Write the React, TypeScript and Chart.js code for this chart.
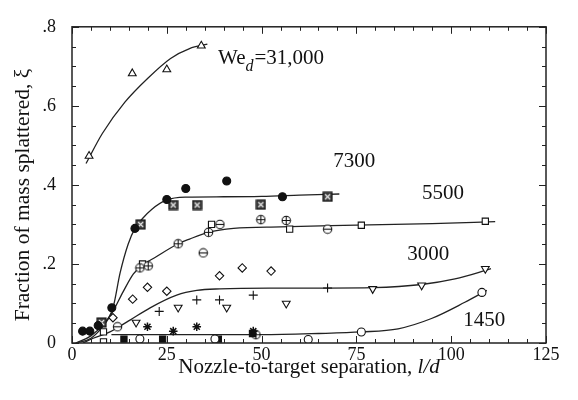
import React, { useEffect, useRef } from "react";
import { Chart, registerables } from "chart.js";

Chart.register(...registerables);

// ---------- axis ticks ----------
const X_TICKS = [0, 25, 50, 75, 100, 125];
const X_TICK_LABELS = ["0", "25", "50", "75", "100", "125"];
const Y_TICKS = [0, 0.2, 0.4, 0.6, 0.8];
const Y_TICK_LABELS = ["0", ".2", ".4", ".6", ".8"];

// ---------- We_d = 31,000 ----------
const WE31000_TRI_X = [4.5, 15.9, 25.0, 34.1];
const WE31000_TRI_Y = [0.473, 0.682, 0.692, 0.752];
const WE31000_FIT_X = [3.7, 8, 14, 20, 26, 31, 35.7];
const WE31000_FIT_Y = [0.454, 0.53, 0.61, 0.67, 0.72, 0.745, 0.756];

// ---------- We_d = 7300 ----------
const WE7300_DOT_X = [2.8, 4.7, 6.9, 10.5, 16.6, 25, 30, 40.8, 55.5];
const WE7300_DOT_Y = [0.03, 0.03, 0.044, 0.089, 0.29, 0.363, 0.391, 0.41, 0.37];
const WE7300_BOXX_X = [7.8, 18.1, 26.7, 33, 49.8, 67.4];
const WE7300_BOXX_Y = [0.052, 0.3, 0.349, 0.349, 0.35, 0.37];
const WE7300_FIT_X = [1, 5, 8, 10.8, 12.7, 14.8, 16.6, 18.6, 21, 25, 30.2, 40, 50, 60, 70.5];
const WE7300_FIT_Y = [0, 0.018, 0.045, 0.089, 0.178, 0.25, 0.29, 0.315, 0.338, 0.362, 0.369, 0.37, 0.371, 0.374, 0.377];

// ---------- We_d = 5500 ----------
const WE5500_CPLUS_X = [17.9, 20.1, 28, 36, 49.8, 56.5];
const WE5500_CPLUS_Y = [0.19, 0.195, 0.251, 0.28, 0.312, 0.31];
const WE5500_CMINUS_X = [12, 34.6, 39, 67.4];
const WE5500_CMINUS_Y = [0.041, 0.228, 0.3, 0.288];
const WE5500_SQ_X = [8.3, 8.3, 18.6, 36.8, 57.4, 76.3, 109];
const WE5500_SQ_Y = [0.003, 0.028, 0.2, 0.3, 0.288, 0.298, 0.308];
const WE5500_FIT_X = [1, 5, 8, 10.8, 13.5, 16.2, 18.6, 22, 28, 31, 36, 42.6, 55, 75, 95, 111.6];
const WE5500_FIT_Y = [0, 0.012, 0.04, 0.08, 0.13, 0.175, 0.197, 0.217, 0.251, 0.263, 0.28, 0.29, 0.294, 0.298, 0.302, 0.307];

// ---------- We_d = 3000 ----------
const WE3000_DIA_X = [10.8, 16, 19.9, 25, 38.9, 44.9, 52.5];
const WE3000_DIA_Y = [0.064, 0.111, 0.141, 0.131, 0.17, 0.19, 0.182];
const WE3000_PLUS_X = [23, 32.9, 38.9, 47.8, 67.4];
const WE3000_PLUS_Y = [0.08, 0.109, 0.109, 0.121, 0.139];
const WE3000_ITRI_X = [16.9, 28, 40.8, 56.5, 79.3, 92.2, 109];
const WE3000_ITRI_Y = [0.052, 0.09, 0.09, 0.1, 0.137, 0.146, 0.188];
const WE3000_FIT_X = [2.9, 5.6, 10, 12.2, 15.3, 20.6, 27.6, 32.9, 39, 52, 67.4, 79.3, 92.2, 101, 110.5];
const WE3000_FIT_Y = [0, 0.012, 0.028, 0.04, 0.058, 0.089, 0.121, 0.133, 0.137, 0.139, 0.139, 0.14, 0.148, 0.162, 0.188];

// ---------- We_d = 1450 ----------
const WE1450_CIRC_X = [17.9, 37.7, 62.3, 76.3, 108.1];
const WE1450_CIRC_Y = [0.01, 0.01, 0.009, 0.028, 0.128];
const WE1450_AST_X = [19.9, 26.7, 32.9, 47.8];
const WE1450_AST_Y = [0.041, 0.03, 0.041, 0.03];
const WE1450_FSQ_X = [13.7, 23.9, 38.6, 47.6];
const WE1450_FSQ_Y = [0.01, 0.01, 0.01, 0.024];
const WE1450_CPLUS_X = [48.5];
const WE1450_CPLUS_Y = [0.021];
const WE1450_FIT_X = [10.4, 30, 50, 65, 76.3, 86, 94.8, 103.6, 109.4];
const WE1450_FIT_Y = [0.021, 0.021, 0.021, 0.024, 0.028, 0.036, 0.062, 0.103, 0.133];

// ---------- curve labels ----------
const CURVE_LABELS = ["31,000", "7300", "5500", "3000", "1450"];
const LABEL_X = [38.5, 68.9, 92.3, 88.4, 103.2];
const LABEL_Y = [0.72, 0.458, 0.378, 0.224, 0.058];

const FONT = "'Liberation Serif', 'DejaVu Serif', serif";
const INK = "#111";

const pts = (xs: number[], ys: number[]) => xs.map((x, i) => ({ x, y: ys[i] }));

function glyph(kind: string): HTMLCanvasElement {
  const c = document.createElement("canvas");
  c.width = 11;
  c.height = 11;
  const g = c.getContext("2d")!;
  g.strokeStyle = INK;
  g.fillStyle = "#fff";
  g.lineWidth = 1.1;
  const m = 5.5;
  if (kind === "boxX") {
    g.fillStyle = "#444";
    g.fillRect(1, 1, 9, 9);
    g.strokeRect(1, 1, 9, 9);
    g.beginPath();
    g.strokeStyle = "#eee";
    g.moveTo(3, 3);
    g.lineTo(8, 8);
    g.moveTo(8, 3);
    g.lineTo(3, 8);
    g.stroke();
    return c;
  }
  g.beginPath();
  g.arc(m, m, 4.2, 0, Math.PI * 2);
  g.fill();
  g.stroke();
  g.beginPath();
  g.moveTo(1.3, m);
  g.lineTo(9.7, m);
  if (kind === "circlePlus") {
    g.moveTo(m, 1.3);
    g.lineTo(m, 9.7);
  }
  g.stroke();
  return c;
}

const framePlugin = {
  id: "frameAndText",
  afterDraw(chart: any) {
    const { ctx, chartArea, scales } = chart;
    const { left, right, top, bottom } = chartArea;
    const xs = scales.x;
    const ys = scales.y;
    ctx.save();
    ctx.strokeStyle = "#222";
    ctx.lineWidth = 1.5;
    ctx.strokeRect(left, top, right - left, bottom - top);
    ctx.lineWidth = 1;
    ctx.beginPath();
    for (let v = 0; v <= 125; v += 5) {
      const px = Math.round(xs.getPixelForValue(v)) + 0.5;
      const len = v % 25 === 0 ? 7 : 4;
      ctx.moveTo(px, bottom);
      ctx.lineTo(px, bottom - len);
      ctx.moveTo(px, top);
      ctx.lineTo(px, top + len);
    }
    for (let k = 0; k <= 16; k++) {
      const v = k * 0.05;
      const py = Math.round(ys.getPixelForValue(v)) + 0.5;
      const len = k % 4 === 0 ? 7 : 4;
      ctx.moveTo(left, py);
      ctx.lineTo(left + len, py);
      ctx.moveTo(right, py);
      ctx.lineTo(right - len, py);
    }
    ctx.stroke();

    ctx.fillStyle = INK;
    ctx.textBaseline = "middle";
    // x title
    const xa = "Nozzle-to-target separation, ";
    const xb = "l/d";
    ctx.font = `21px ${FONT}`;
    const wa = ctx.measureText(xa).width;
    ctx.font = `italic 21px ${FONT}`;
    const wb = ctx.measureText(xb).width;
    const cx = (left + right) / 2;
    const ty = bottom + 24;
    ctx.textAlign = "left";
    ctx.font = `21px ${FONT}`;
    ctx.fillText(xa, cx - (wa + wb) / 2, ty);
    ctx.font = `italic 21px ${FONT}`;
    ctx.fillText(xb, cx - (wa + wb) / 2 + wa, ty);

    // y title
    ctx.save();
    ctx.translate(23, 195);
    ctx.rotate(-Math.PI / 2);
    ctx.textAlign = "center";
    ctx.font = `21.5px ${FONT}`;
    ctx.fillText("Fraction of mass splattered, \u03BE", 0, 0);
    ctx.restore();

    // curve labels
    ctx.textAlign = "left";
    CURVE_LABELS.forEach((lab, i) => {
      let px = xs.getPixelForValue(LABEL_X[i]);
      const py = ys.getPixelForValue(LABEL_Y[i]);
      if (i === 0) {
        ctx.font = `21px ${FONT}`;
        ctx.fillText("We", px, py);
        px += ctx.measureText("We").width;
        ctx.font = `italic 16px ${FONT}`;
        ctx.fillText("d", px, py + 8);
        px += ctx.measureText("d").width + 1;
        ctx.font = `21px ${FONT}`;
        ctx.fillText("=" + lab, px, py);
      } else {
        ctx.font = `21px ${FONT}`;
        ctx.fillText(lab, px, py);
      }
    });
    ctx.restore();
  },
};

export default function App() {
  const ref = useRef<HTMLCanvasElement | null>(null);

  useEffect(() => {
    if (!ref.current) return;
    const circlePlus = glyph("circlePlus");
    const circleMinus = glyph("circleMinus");
    const boxX = glyph("boxX");

    const marker = (data: any[], style: any, opts: any = {}) => ({
      type: "scatter",
      data,
      showLine: false,
      pointStyle: style,
      pointRadius: 4,
      pointBorderWidth: 1.1,
      pointBorderColor: INK,
      pointBackgroundColor: "#fff",
      order: 0,
      ...opts,
    });
    const fit = (data: any[]) => ({
      type: "line",
      data,
      showLine: true,
      pointRadius: 0,
      borderColor: "#222",
      borderWidth: 1.3,
      cubicInterpolationMode: "monotone",
      fill: false,
      order: 1,
    });

    const chart = new Chart(ref.current, {
      type: "scatter",
      data: {
        datasets: [
          fit(pts(WE31000_FIT_X, WE31000_FIT_Y)),
          fit(pts(WE7300_FIT_X, WE7300_FIT_Y)),
          fit(pts(WE5500_FIT_X, WE5500_FIT_Y)),
          fit(pts(WE3000_FIT_X, WE3000_FIT_Y)),
          fit(pts(WE1450_FIT_X, WE1450_FIT_Y)),
          marker(pts(WE31000_TRI_X, WE31000_TRI_Y), "triangle", { pointRadius: 4.5 }),
          marker(pts(WE7300_DOT_X, WE7300_DOT_Y), "circle", { pointBackgroundColor: INK }),
          marker(pts(WE7300_BOXX_X, WE7300_BOXX_Y), boxX),
          marker(pts(WE5500_CPLUS_X, WE5500_CPLUS_Y), circlePlus),
          marker(pts(WE5500_CMINUS_X, WE5500_CMINUS_Y), circleMinus),
          marker(pts(WE5500_SQ_X, WE5500_SQ_Y), "rect", { pointRadius: 4.4 }),
          marker(pts(WE3000_DIA_X, WE3000_DIA_Y), "rectRot", { pointRadius: 4.2 }),
          marker(pts(WE3000_PLUS_X, WE3000_PLUS_Y), "cross", { pointRadius: 4.5 }),
          marker(pts(WE3000_ITRI_X, WE3000_ITRI_Y), "triangle", { pointRadius: 4.5, rotation: 180 }),
          marker(pts(WE1450_CIRC_X, WE1450_CIRC_Y), "circle"),
          marker(pts(WE1450_AST_X, WE1450_AST_Y), "star", { pointRadius: 4.3, pointBorderWidth: 1.5 }),
          marker(pts(WE1450_FSQ_X, WE1450_FSQ_Y), "rect", { pointRadius: 4.4, pointBackgroundColor: INK }),
          marker(pts(WE1450_CPLUS_X, WE1450_CPLUS_Y), circlePlus),
        ] as any,
      },
      options: {
        animation: false,
        responsive: false,
        devicePixelRatio: 1,
        layout: { padding: { top: 15, right: 32, left: 0, bottom: 0 } },
        plugins: { legend: { display: false }, tooltip: { enabled: false } },
        scales: {
          x: {
            type: "linear",
            min: 0,
            max: 125,
            afterBuildTicks: (s: any) => {
              s.ticks = X_TICKS.map((v) => ({ value: v }));
            },
            afterFit: (s: any) => {
              s.height = 57;
            },
            ticks: {
              padding: 1,
              color: INK,
              font: { family: FONT, size: 18 },
              maxRotation: 0,
              callback: (v: any) => {
                const i = X_TICKS.findIndex((t) => Math.abs(t - Number(v)) < 1e-6);
                return i >= 0 ? X_TICK_LABELS[i] : "";
              },
            },
            grid: { display: false, drawTicks: false },
            border: { display: false },
          },
          y: {
            type: "linear",
            min: 0,
            max: 0.8,
            afterBuildTicks: (s: any) => {
              s.ticks = Y_TICKS.map((v) => ({ value: v }));
            },
            afterFit: (s: any) => {
              s.width = 72;
            },
            ticks: {
              padding: 16,
              color: INK,
              font: { family: FONT, size: 18 },
              callback: (v: any) => {
                const i = Y_TICKS.findIndex((t) => Math.abs(t - Number(v)) < 1e-6);
                return i >= 0 ? Y_TICK_LABELS[i] : "";
              },
            },
            grid: { display: false, drawTicks: false },
            border: { display: false },
          },
        },
      } as any,
      plugins: [framePlugin],
    });
    return () => chart.destroy();
  }, []);

  return (
    <div style={{ position: "fixed", left: 0, top: 0, width: 578, height: 400, background: "#fff" }}>
      <canvas ref={ref} width={578} height={400} style={{ display: "block" }} />
    </div>
  );
}
